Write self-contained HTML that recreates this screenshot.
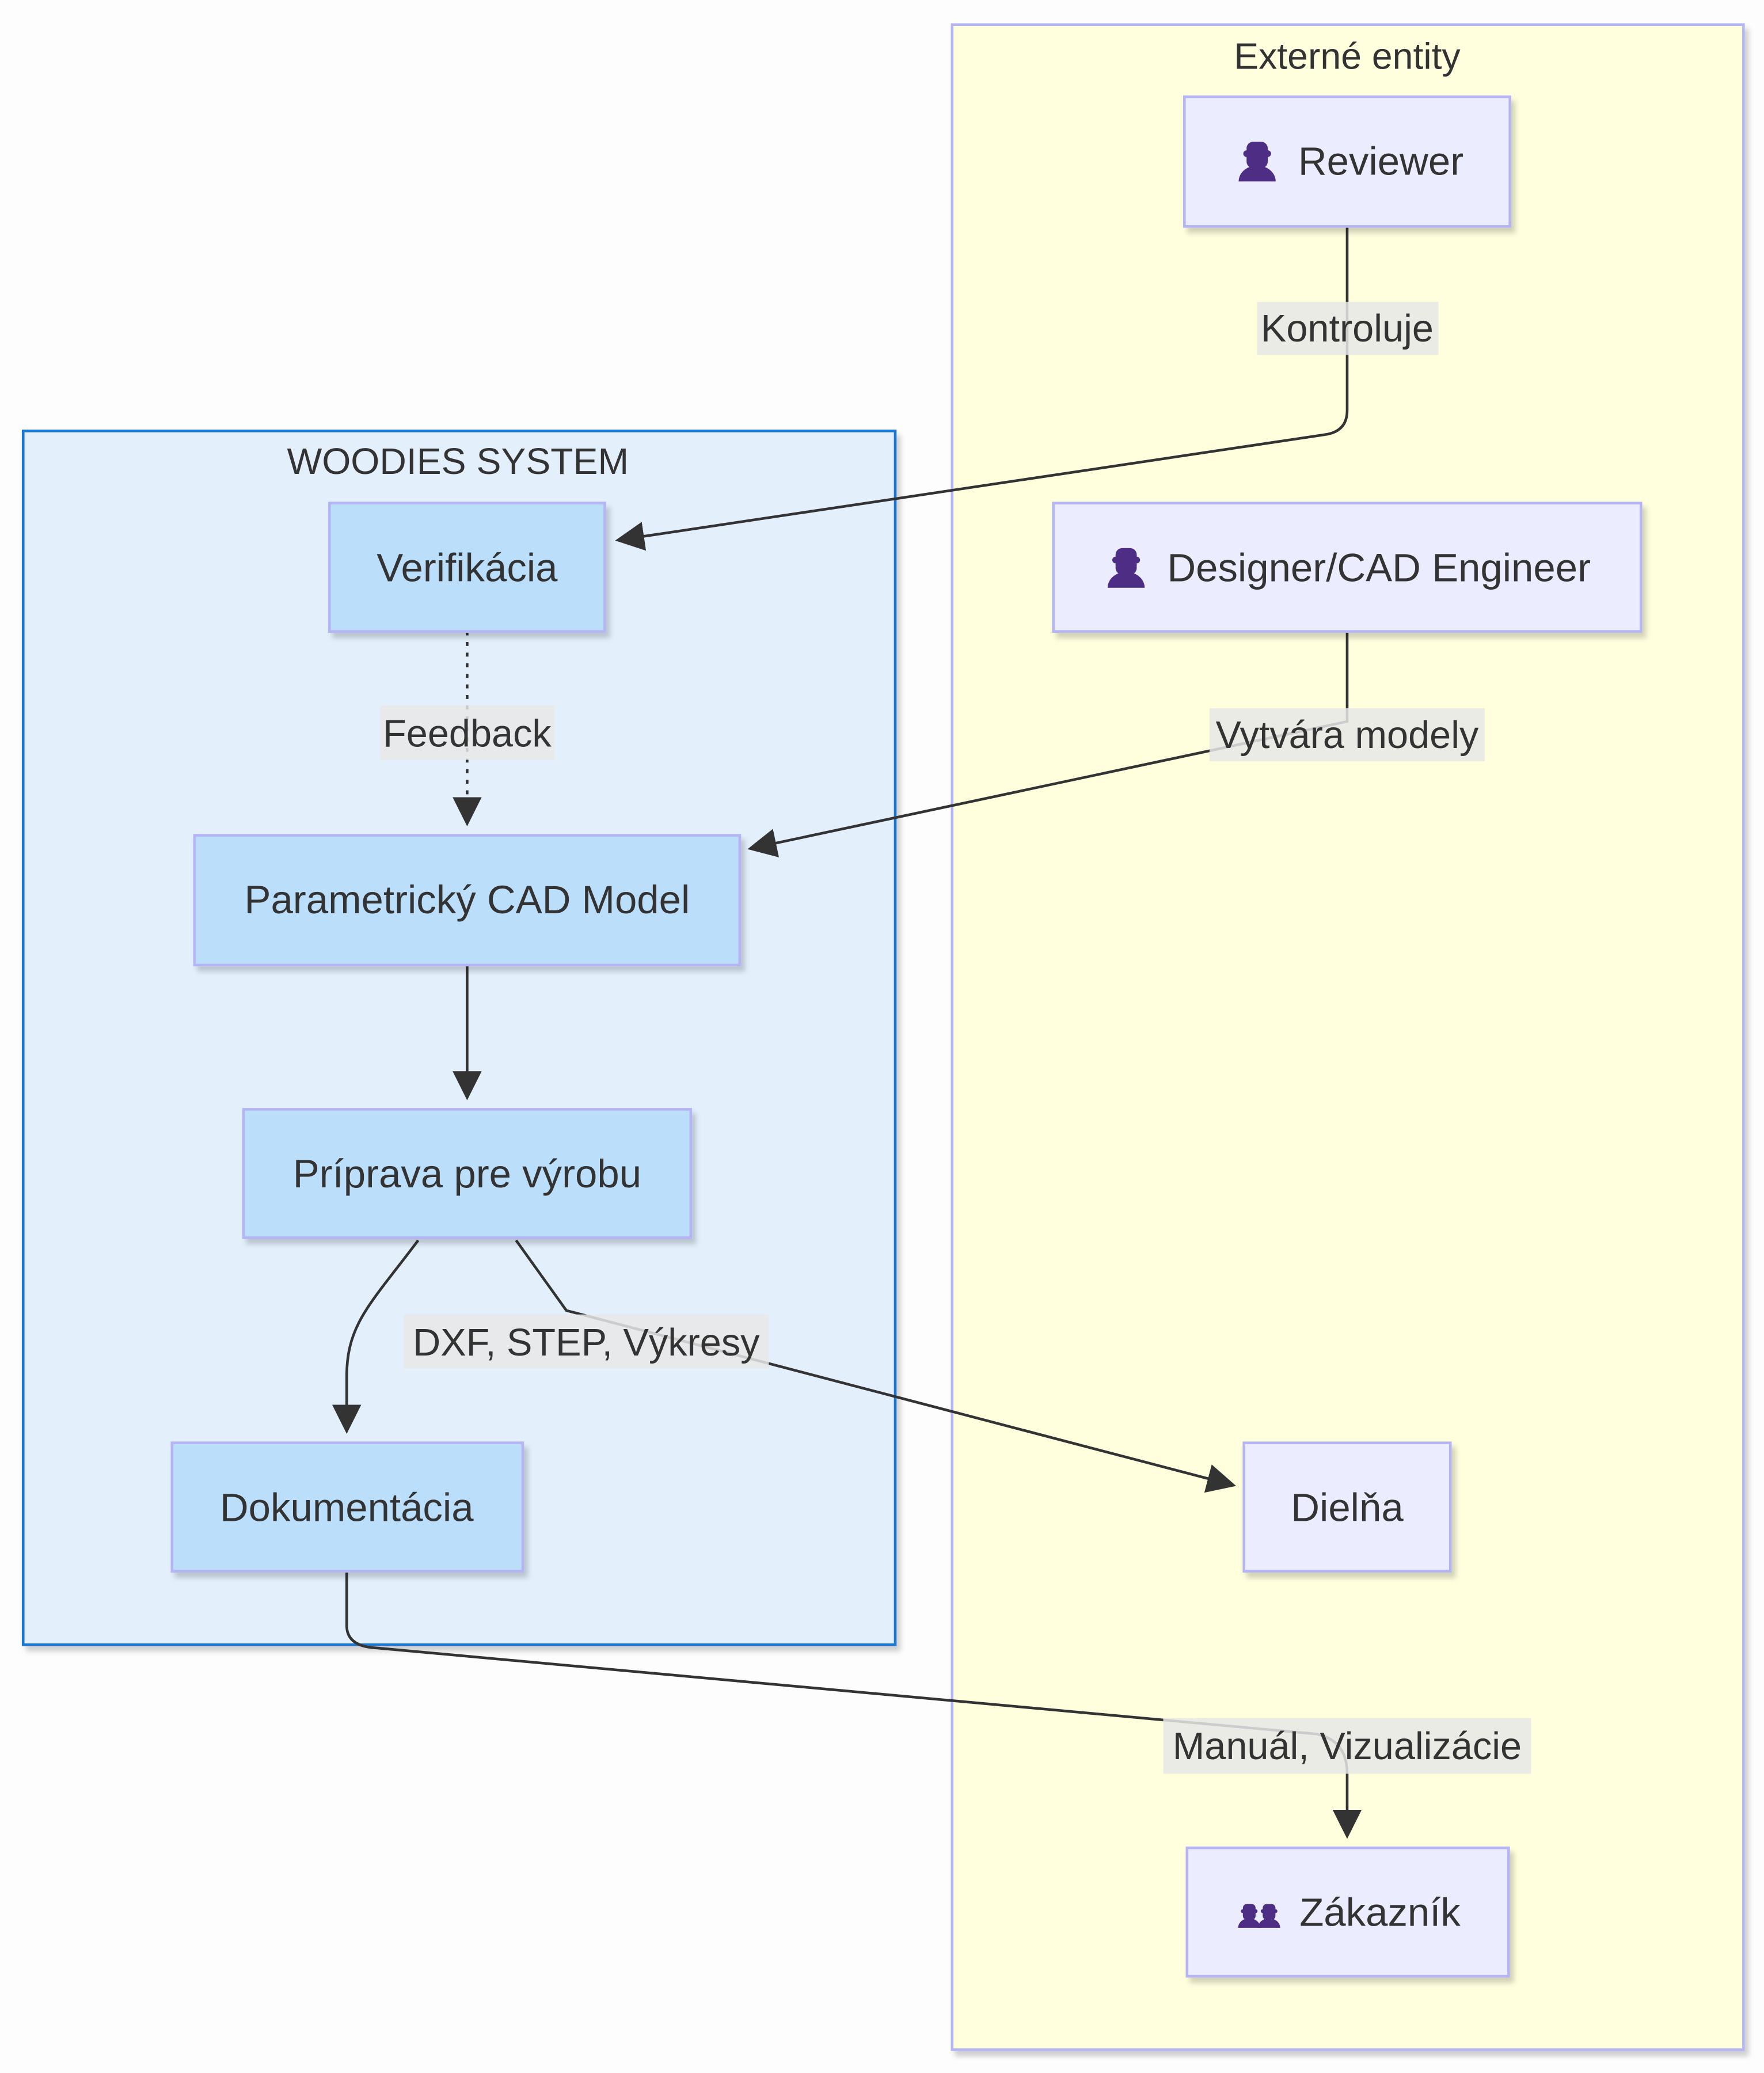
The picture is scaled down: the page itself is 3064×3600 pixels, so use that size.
<!DOCTYPE html>
<html><head><meta charset="utf-8"><style>html,body{margin:0;padding:0;background:#fdfdfd}svg{display:block}</style></head>
<body>
<svg xmlns="http://www.w3.org/2000/svg" width="3064" height="3600" viewBox="0 0 1333 1566" font-family="Liberation Sans, Arial, sans-serif">
<defs>
<filter id="sh" x="-10%" y="-10%" width="130%" height="140%"><feDropShadow dx="3" dy="4" stdDeviation="2" flood-color="#000" flood-opacity="0.18"/></filter>
<marker id="ar" viewBox="0 0 10 10" refX="9" refY="5" markerWidth="22" markerHeight="22" markerUnits="userSpaceOnUse" orient="auto"><path d="M0,0 L10,5 L0,10 z" fill="#333"/></marker>
<g id="person"><rect x="-8" y="-16" width="16" height="20" rx="5" fill="#4e2d84"/><circle cx="-8" cy="-7" r="2.5" fill="#4e2d84"/><circle cx="8" cy="-7" r="2.5" fill="#4e2d84"/><path d="M-14,14 A14,12 0 0 1 14,14 Z" fill="#4e2d84"/></g>
</defs>
<rect width="1333" height="1566" fill="#fdfdfd"/>
<rect x="719.5" y="18.5" width="598" height="1530" fill="#ffffde" stroke="#b5b5f5" stroke-width="2" filter="url(#sh)"/>
<text x="1018" y="52" font-size="28" text-anchor="middle" fill="#333">Externé entity</text>
<rect x="17.5" y="325.5" width="659" height="917" fill="#e3f0fc" stroke="#1e77d2" stroke-width="2" filter="url(#sh)"/>
<text x="346" y="358" font-size="28" text-anchor="middle" fill="#333">WOODIES SYSTEM</text>

<g fill="none" stroke="#333" stroke-width="2">
<path d="M1018,171 L1018,310 Q1018,325 1003,328 L467,408" marker-end="url(#ar)"/>
<path d="M1018,477 L1018,545 L567,641" marker-end="url(#ar)"/>
<path d="M353,477 L353,622" stroke-dasharray="3,5" marker-end="url(#ar)"/>
<path d="M353,729 L353,829" marker-end="url(#ar)"/>
<path d="M316,937 C280,985 262,1000 262,1040 L262,1081" marker-end="url(#ar)"/>
<path d="M390,937 L428,990 L932,1122" marker-end="url(#ar)"/>
<path d="M262,1187 L262,1228 Q262,1244 285,1245 L995,1310 Q1018,1315 1018,1340 L1018,1387" marker-end="url(#ar)"/>
</g>
<g font-size="29" fill="#333" text-anchor="middle">
<rect x="950" y="228" width="137" height="40" fill="#e8e8e8" opacity="0.85"/><text x="1018" y="258">Kontroluje</text>
<rect x="914" y="535" width="208" height="40" fill="#e8e8e8" opacity="0.85"/><text x="1018" y="565">Vytvára modely</text>
<rect x="287" y="533" width="132" height="41" fill="#e8e8e8" opacity="0.85"/><text x="353" y="564">Feedback</text>
<rect x="305" y="993" width="276" height="41" fill="#e8e8e8" opacity="0.85"/><text x="443" y="1024">DXF, STEP, Výkresy</text>
<rect x="879" y="1298" width="278" height="42" fill="#e8e8e8" opacity="0.85"/><text x="1018" y="1329">Manuál, Vizualizácie</text>
</g>
<g stroke-width="2" filter="url(#sh)">
<rect x="895" y="73" width="246" height="98" fill="#ececff" stroke="#b5b5f5"/>
<rect x="796" y="380" width="444" height="97" fill="#ececff" stroke="#b5b5f5"/>
<rect x="940" y="1090" width="156" height="97" fill="#ececff" stroke="#b5b5f5"/>
<rect x="897" y="1396" width="243" height="97" fill="#ececff" stroke="#b5b5f5"/>
<rect x="249" y="380" width="208" height="97" fill="#bbdefb" stroke="#b5b5f5"/>
<rect x="147" y="631" width="412" height="98" fill="#bbdefb" stroke="#b5b5f5"/>
<rect x="184" y="838" width="338" height="97" fill="#bbdefb" stroke="#b5b5f5"/>
<rect x="130" y="1090" width="265" height="97" fill="#bbdefb" stroke="#b5b5f5"/>
</g>
<g font-size="30" fill="#333">
<use href="#person" x="950" y="123"/><text x="981" y="132">Reviewer</text>
<use href="#person" x="851" y="430"/><text x="882" y="439">Designer/CAD Engineer</text>
<text x="1018" y="1149" text-anchor="middle">Dielňa</text>
<g transform="translate(944,1448) scale(0.6)"><use href="#person"/></g>
<g transform="translate(959,1448) scale(0.6)"><use href="#person"/></g>
<text x="982" y="1455">Zákazník</text>
<text x="353" y="439" text-anchor="middle">Verifikácia</text>
<text x="353" y="690" text-anchor="middle">Parametrický CAD Model</text>
<text x="353" y="897" text-anchor="middle">Príprava pre výrobu</text>
<text x="262" y="1149" text-anchor="middle">Dokumentácia</text>
</g>
</svg>
</body></html>
